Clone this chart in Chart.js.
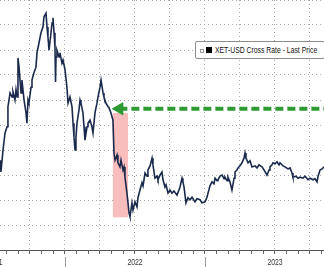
<!DOCTYPE html>
<html>
<head>
<meta charset="utf-8">
<script src="https://cdn.jsdelivr.net/npm/chart.js@4/dist/chart.umd.min.js"></script>
<style>
  body { margin: 0; background: #fff; }
  #wrap { position: relative; width: 324px; height: 267px; overflow: hidden; }
  #legend {
    position: absolute; left: 195px; top: 41px; width: 128px; height: 16px;
    border: 1px solid #8c8c8c; border-radius: 2px; background: #fff;
    font-family: "Liberation Sans", Arial, sans-serif; font-size: 9.5px; color: #111;
  }
  #legend .sm { position: absolute; left: 4px; top: 7px; width: 2px; height: 2px; border: 1px solid #999; }
  #legend .sq { position: absolute; left: 10px; top: 5px; width: 6px; height: 6px; background: #000; }
  #legend .tx { position: absolute; left: 19px; top: 2px; white-space: nowrap;
    transform: scaleX(0.72); transform-origin: left center; }
</style>
</head>
<body>
<div id="wrap">
  <canvas id="myChart" width="324" height="267"></canvas>
  <div id="legend"><span class="sm"></span><span class="sq"></span><span class="tx">XET-USD Cross Rate - Last Price</span></div>
</div>
<script>
// x = months since Jan 2022, y = price in USD
var months = [-5.57,-5.49,-5.31,-5.14,-4.97,-4.89,-4.80,-4.71,-4.54,-4.46,
  -4.29,-4.20,-4.11,-4.03,-3.94,-3.77,-3.69,-3.60,-3.51,-3.34,
  -3.26,-3.17,-3.09,-2.91,-2.83,-2.66,-2.49,-2.40,-2.23,-2.06,
  -1.89,-1.80,-1.63,-1.54,-1.46,-1.37,-1.20,-1.11,-1.03,-0.94,
  -0.86,-0.81,-0.77,-0.69,-0.51,-0.43,-0.26,-0.17,0,0.17,
  0.26,0.43,0.60,0.69,0.77,0.86,0.94,1.03,1.20,1.29,
  1.37,1.54,1.63,1.71,1.89,1.97,2.14,2.31,2.40,2.57,
  2.74,2.83,3.00,3.09,3.26,3.34,3.51,3.69,3.77,3.94,
  4.11,4.20,4.29,4.46,4.54,4.71,4.80,4.97,5.06,5.14,
  5.31,5.40,5.49,5.57,5.74,5.83,6.00,6.17,6.26,6.43,
  6.60,6.69,6.86,7.03,7.11,7.29,7.46,7.54,7.71,7.89,
  7.97,8.14,8.31,8.40,8.57,8.66,8.83,9.00,9.17,9.34,
  9.60,9.77,9.86,10.03,10.11,10.20,10.37,10.54,10.71,10.89,
  11.14,11.31,11.57,11.74,12.00,12.17,12.26,12.43,12.60,12.77,
  12.86,13.03,13.11,13.29,13.46,13.63,13.71,13.89,13.97,14.14,
  14.31,14.49,14.57,14.74,14.83,15.00,15.17,15.34,15.43,15.51,
  15.69,15.86,16.03,16.29,16.46,16.63,16.89,17.06,17.31,17.49,
  17.57,17.74,17.83,18.00,18.17,18.34,18.43,18.69,18.86,19.11,
  19.29,19.46,19.54,19.80,19.97,20.14,20.40,20.57,20.83,21.00,
  21.26,21.43,21.60,21.69,21.86,22.03,22.20];
var prices = [2000,1770,2200,2530,2650,3040,3170,3310,3230,3330,
  3170,3370,3230,3990,3810,3310,3560,3370,3170,2920,
  2720,3170,3110,3420,3560,3700,3810,4090,4280,4480,
  4590,4790,4860,4590,4400,4140,4480,4670,4770,4480,
  4200,3520,4010,4140,4010,4090,3890,3950,3760,3410,
  3110,3230,3040,2720,2450,2200,2450,2720,2980,3170,
  3110,2920,2650,2390,2650,2720,2780,2650,2530,2920,
  3110,3230,3420,3560,3310,3230,3110,3040,3020,2920,
  2780,2140,2000,2100,1950,1870,2000,1810,1870,1670,
  1360,1170,970,900,1170,1030,1190,1090,1280,1420,
  1560,1500,1750,1690,1810,1890,2040,1910,1650,1690,
  1620,1710,1770,1620,1480,1520,1360,1420,1360,1400,
  1320,1420,1480,1650,1580,1480,1170,1270,1230,1280,
  1190,1250,1230,1170,1190,1280,1360,1500,1580,1540,
  1650,1600,1620,1690,1710,1640,1670,1600,1670,1580,
  1420,1650,1770,1810,1850,1890,1950,2040,2140,2040,
  1950,1990,1870,1890,1850,1910,1870,1810,1710,1810,
  1870,1910,1950,1930,1970,1910,1950,1890,1870,1830,
  1850,1750,1670,1690,1650,1670,1650,1690,1620,1650,
  1620,1640,1580,1690,1810,1830,1870];

var seriesName = "XET-USD Cross Rate - Last Price";

// highlighted crash window and the arrow level
var boxMonths = [4.08, 5.42];
var boxPrices = [890, 2920];
var arrowMonths = [4.66, 22.4];
var arrowPrice = 3000;

// x axis
var xRange = [-5.571, 22.2];
var yRange = [253, 5117];
var yearLabels = ["2021", "2022", "2023"];
var yearCenters = [-6, 6, 18];
var yearStarts = [0, 12];

var points = [];
for (var i = 0; i < months.length; i++) {
  points.push({ x: months[i], y: prices[i] });
}

var gridGrey = "#a9a9a9";
var green = "#2f9a33";

// 연도 라벨, 구분선
var yearAxisPlugin = {
  id: "yearAxis",
  afterDraw: function (chart) {
    var ctx = chart.ctx;
    var xs = chart.scales.x;
    var bottom = chart.chartArea.bottom;
    ctx.save();
    ctx.strokeStyle = "#9a9a9a";
    ctx.lineWidth = 1;
    for (var i = 0; i < yearStarts.length; i++) {
      var px = Math.round(xs.getPixelForValue(yearStarts[i])) + 0.5;
      ctx.beginPath();
      ctx.moveTo(px, bottom + 7);
      ctx.lineTo(px, chart.height);
      ctx.stroke();
    }
    ctx.fillStyle = "#333";
    ctx.font = "9.5px 'Liberation Sans', Arial, sans-serif";
    ctx.textAlign = "center";
    ctx.textBaseline = "middle";
    for (var j = 0; j < yearLabels.length; j++) {
      ctx.save();
      ctx.translate(xs.getPixelForValue(yearCenters[j]), bottom + 12);
      ctx.scale(0.72, 1);
      ctx.fillText(yearLabels[j], 0, 0);
      ctx.restore();
    }
    ctx.restore();
  }
};

new Chart(document.getElementById("myChart"), {
  type: "line",
  data: {
    datasets: [
      {
        label: seriesName,
        data: points,
        borderColor: "#1b2a4c",
        borderWidth: 1.6,
        pointRadius: 0,
        tension: 0,
        fill: false
      },
      {
        label: "arrow",
        data: [{ x: arrowMonths[0], y: arrowPrice }, { x: arrowMonths[1], y: arrowPrice }],
        borderColor: green,
        borderWidth: 4,
        borderDash: [8, 4],
        pointRadius: [7, 0],
        pointStyle: "triangle",
        pointRotation: -90,
        pointBackgroundColor: green,
        pointBorderColor: green,
        pointBorderWidth: 1,
        fill: false
      },
      {
        label: "boxTop",
        data: [{ x: boxMonths[0], y: boxPrices[1] }, { x: boxMonths[1], y: boxPrices[1] }],
        borderColor: "rgba(0,0,0,0)",
        pointRadius: 0,
        backgroundColor: "#f8bdbd",
        fill: "+1"
      },
      {
        label: "boxBottom",
        data: [{ x: boxMonths[0], y: boxPrices[0] }, { x: boxMonths[1], y: boxPrices[0] }],
        borderColor: "rgba(0,0,0,0)",
        pointRadius: 0,
        fill: false
      }
    ]
  },
  options: {
    responsive: false,
    animation: false,
    layout: { padding: 0, autoPadding: false },
    plugins: {
      legend: { display: false },
      tooltip: { enabled: false }
    },
    scales: {
      x: {
        type: "linear",
        min: xRange[0],
        max: xRange[1],
        ticks: { display: false, stepSize: 1, includeBounds: false },
        grid: {
          color: function (c) {
            return c.tick && c.tick.value % 3 === 0 ? gridGrey : "rgba(0,0,0,0)";
          },
          tickColor: "#666",
          tickLength: 4,
          lineWidth: 1
        },
        border: { display: true, color: "#555", width: 1, dash: [1, 3] },
        afterFit: function (scale) { scale.height = 17; }
      },
      y: {
        min: yRange[0],
        max: yRange[1],
        ticks: { display: false, stepSize: 500, includeBounds: false },
        grid: { color: gridGrey, drawTicks: false, lineWidth: 1 },
        border: { display: false, dash: [1, 3] }
      }
    }
  },
  plugins: [yearAxisPlugin]
});
</script>
</body>
</html>
